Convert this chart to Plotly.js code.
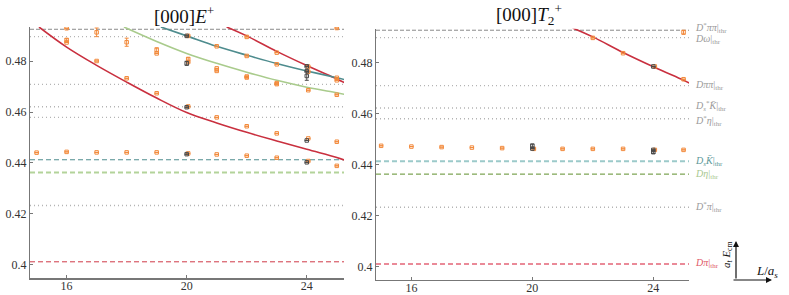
<!DOCTYPE html>
<html>
<head>
<meta charset="utf-8">
<script src="https://cdn.plot.ly/plotly-3.0.1.min.js"></script>
<style>
  body { margin: 0; background: #fff; }
  #plot { width: 789px; height: 295px; }
</style>
</head>
<body>
<div id="plot"></div>
<script>
// threshold energies (a_t E_cm), shared by both panels
const thrNames = [
  '<i>D</i><sup>*</sup><i>ππ</i>|<sub>thr</sub>',
  '<i>Dω</i>|<sub>thr</sub>',
  '<i>Dππ</i>|<sub>thr</sub>',
  '<i>D</i><sub><i>s</i></sub><sup>*</sup><i>K̄</i>|<sub>thr</sub>',
  '<i>D</i><sup>*</sup><i>η</i>|<sub>thr</sub>',
  '<i>D<sub>s</sub>K̄</i>|<sub>thr</sub>',
  '<i>Dη</i>|<sub>thr</sub>',
  '<i>D</i><sup>*</sup><i>π</i>|<sub>thr</sub>',
  '<i>Dπ</i>|<sub>thr</sub>'
];
const thrValues = [0.4926, 0.4897, 0.4709, 0.4621, 0.4579, 0.4412, 0.4362, 0.4232, 0.4010];

// non-interacting curves
const redLowL = [15.08, 16, 17, 18, 19, 20, 21, 22, 23, 24, 25, 25.25];
const redLowE = [0.4935, 0.4856, 0.4784, 0.4718, 0.4655, 0.4598, 0.4557, 0.4520, 0.4486, 0.4453, 0.4421, 0.4411];
const redHighL = [21.33, 22, 23, 24, 25, 25.25];
const redHighE = [0.4935, 0.4900, 0.4839, 0.4783, 0.4730, 0.4716];
const tealL = [19.14, 20, 21, 22, 23, 24, 25, 25.25];
const tealE = [0.4935, 0.4900, 0.4859, 0.4824, 0.4791, 0.4762, 0.4735, 0.4728];
const greenL = [17.91, 19, 20, 21, 22, 23, 24, 25, 25.25];
const greenE = [0.4935, 0.4878, 0.4831, 0.4792, 0.4757, 0.4725, 0.4698, 0.4676, 0.4670];

// [000] E+ levels
const eOrangeL = [15, 16, 16, 16, 16, 17, 17, 17, 18, 18, 18, 19, 19, 19, 19,
  20.05, 20.05, 20.05, 20.05, 20.05, 21, 21, 21, 21, 21, 22, 22, 22, 22, 22, 22,
  23, 23, 23, 23, 23, 23, 24.05, 24.05, 24.05, 24.05, 24.05, 25, 25, 25, 25, 25, 25];
const eOrangeE = [0.4440, 0.4930, 0.4884, 0.4874, 0.4443, 0.4914, 0.4801, 0.4441, 0.4875, 0.4733, 0.4441, 0.4845, 0.4831, 0.4674, 0.4441,
  0.4900, 0.4809, 0.4797, 0.4622, 0.4437, 0.4859, 0.4772, 0.4762, 0.4579, 0.4433, 0.4896, 0.4821, 0.4740, 0.4736, 0.4544, 0.4428,
  0.4834, 0.4788, 0.4714, 0.4710, 0.4516, 0.4420, 0.4779, 0.4759, 0.4686, 0.4496, 0.4407, 0.4931, 0.4735, 0.4725, 0.4668, 0.4483, 0.4388];
const eOrangeErr = [0, 0, 0.0005, 0, 0, 0.0017, 0, 0, 0.0016, 0, 0, 0.0008, 0, 0, 0,
  0, 0.0005, 0, 0, 0, 0, 0, 0, 0, 0, 0, 0, 0, 0, 0, 0,
  0, 0, 0, 0, 0, 0, 0, 0, 0, 0, 0, 0, 0, 0, 0, 0, 0];
const eBlackL = [20, 20, 20, 20, 24, 24, 24, 24, 24];
const eBlackE = [0.4900, 0.4792, 0.4619, 0.4434, 0.4780, 0.4761, 0.4742, 0.4488, 0.4402];
const eBlackErr = [0, 0.0008, 0, 0, 0, 0, 0.0017, 0, 0];

// [000] T2+ levels
const tOrangeL = [15, 16, 17, 18, 19, 20.05, 21, 22, 23, 24.05, 25, 22, 23, 24.05, 25, 25];
const tOrangeE = [0.4473, 0.4470, 0.4468, 0.4466, 0.4464, 0.4461, 0.4461, 0.4461, 0.4461, 0.4457, 0.4457,
  0.4896, 0.4836, 0.4784, 0.4734, 0.4918];
const tOrangeErr = [0, 0, 0, 0, 0, 0, 0, 0, 0, 0, 0, 0, 0, 0, 0, 0.0008];
const tBlackL = [20, 20, 24, 24, 24];
const tBlackE = [0.4473, 0.4462, 0.4784, 0.4457, 0.4448];
const tBlackErr = [0.0007, 0, 0, 0, 0.0005];

const orange = '#f28a3c';
const dark = '#4a4a4a';
const red = '#c9303f';
const serif = '"Liberation Serif", "DejaVu Serif", serif';

function pts(x, y, err, color, xa, ya) {
  return {
    x: x, y: y, xaxis: xa, yaxis: ya, type: 'scatter', mode: 'markers',
    marker: { symbol: 'square-open', size: 3.5, color: color, line: { width: 1, color: color } },
    error_y: { type: 'data', array: err, visible: true, color: color, thickness: 1, width: 2 },
    hoverinfo: 'x+y', showlegend: false
  };
}
function curve(x, y, color, xa, ya) {
  return {
    x: x, y: y, xaxis: xa, yaxis: ya, type: 'scatter', mode: 'lines',
    line: { color: color, width: 1.6, shape: 'spline', smoothing: 1 },
    hoverinfo: 'skip', showlegend: false
  };
}

const data = [
  curve(redLowL, redLowE, red, 'x', 'y'),
  curve(redHighL, redHighE, red, 'x', 'y'),
  curve(tealL, tealE, '#4e8c8e', 'x', 'y'),
  curve(greenL, greenE, '#a9cb8c', 'x', 'y'),
  pts(eOrangeL, eOrangeE, eOrangeErr, orange, 'x', 'y'),
  pts(eBlackL, eBlackE, eBlackErr, dark, 'x', 'y'),
  curve(redHighL, redHighE, red, 'x2', 'y2'),
  pts(tOrangeL, tOrangeE, tOrangeErr, orange, 'x2', 'y2'),
  pts(tBlackL, tBlackE, tBlackErr, dark, 'x2', 'y2')
];

// line styles for thresholds: [left panel, right panel]
const gDash = { color: '#8a8a8a', width: 1, dash: '4px,2px' };
const gDot = { color: '#b4b4b4', width: 1.4, dash: '1px,3px' };
const thrStyles = [
  [gDash, gDash],
  [gDot, gDot],
  [gDot, gDot],
  [gDot, gDot],
  [gDot, gDot],
  [{ color: '#4e8c8e', width: 1, dash: '5px,3px' }, { color: '#9ccaca', width: 2, dash: '5px,3px' }],
  [{ color: '#b3d39a', width: 2, dash: '5px,3px' }, { color: '#5d8f2b', width: 1, dash: '5px,3px' }],
  [gDot, gDot],
  [{ color: '#cf3a48', width: 1, dash: '5px,3px' }, { color: '#ea8a98', width: 2, dash: '5px,3px' }]
];
const labelColors = ['#9a9a9a', '#9a9a9a', '#9a9a9a', '#9a9a9a', '#9a9a9a', '#5c9898', '#a8c890', '#9a9a9a', '#e05a68'];
const labelShift = [2, -2, 0, 2, -2, 0, 0, 0, 0];

const shapes = [];
const annotations = [];
thrValues.forEach((v, i) => {
  shapes.push({ type: 'line', layer: 'below', xref: 'x domain', yref: 'y', x0: 0, x1: 1, y0: v, y1: v, line: thrStyles[i][0] });
  shapes.push({ type: 'line', layer: 'below', xref: 'x2 domain', yref: 'y2', x0: 0, x1: 1, y0: v, y1: v, line: thrStyles[i][1] });
  annotations.push({
    xref: 'paper', yref: 'y2', x: 693 / 789, y: v, xanchor: 'left', yanchor: 'middle', yshift: labelShift[i],
    text: thrNames[i], showarrow: false, font: { family: serif, size: 10, color: labelColors[i] }
  });
});

// panel titles
annotations.push({ xref: 'paper', yref: 'paper', x: 184 / 789, y: 1 - 15 / 295, xanchor: 'center', yanchor: 'middle',
  text: '[000]<i>E</i><sup>+</sup>', showarrow: false, font: { family: serif, size: 19, color: '#111' } });
annotations.push({ xref: 'paper', yref: 'paper', x: 529 / 789, y: 1 - 15 / 295, xanchor: 'center', yanchor: 'middle',
  text: '[000]<i>T</i><sub>2</sub><sup>+</sup>', showarrow: false, font: { family: serif, size: 19, color: '#111' } });

// little axis key in the corner
annotations.push({ xref: 'paper', yref: 'paper', x: 736 / 789, y: 1 - 241 / 295, ax: 0, ay: 39,
  text: '', showarrow: true, arrowhead: 2, arrowsize: 1, arrowwidth: 1.2, arrowcolor: '#111' });
annotations.push({ xref: 'paper', yref: 'paper', x: 772 / 789, y: 1 - 280 / 295, ax: -40, ay: 0,
  text: '', showarrow: true, arrowhead: 2, arrowsize: 1, arrowwidth: 1.2, arrowcolor: '#111' });
annotations.push({ xref: 'paper', yref: 'paper', x: 727 / 789, y: 1 - 255 / 295, xanchor: 'center', yanchor: 'middle',
  text: '<i>a<sub>t</sub> E</i><sub>cm</sub>', textangle: -90, showarrow: false, font: { family: serif, size: 11, color: '#111' } });
annotations.push({ xref: 'paper', yref: 'paper', x: 767 / 789, y: 1 - 271 / 295, xanchor: 'center', yanchor: 'middle',
  text: '<i>L</i>/<i>a<sub>s</sub></i>', showarrow: false, font: { family: serif, size: 13, color: '#111' } });

const xTicks = [16, 20, 24];
const yTicks = [0.4, 0.42, 0.44, 0.46, 0.48];
const yTickText = ['0.4', '0.42', '0.44', '0.46', '0.48'];

const axisBase = {
  showline: true, linecolor: '#777', linewidth: 1.2, ticks: 'inside', ticklen: 3, tickcolor: '#777',
  showgrid: false, zeroline: false, tickfont: { family: serif, size: 12, color: '#333' }
};

const layout = {
  width: 789, height: 295,
  margin: { l: 0, r: 0, t: 0, b: 0 },
  paper_bgcolor: '#fff', plot_bgcolor: '#fff',
  showlegend: false,
  xaxis: Object.assign({}, axisBase, { domain: [30 / 789, 344 / 789], range: [14.78, 25.24], tickvals: xTicks, anchor: 'y', ticklabelstandoff: -4 }),
  yaxis: Object.assign({}, axisBase, { domain: [16.7 / 295, 268 / 295], range: [0.3945, 0.4935], tickvals: yTicks, ticktext: yTickText, anchor: 'x' }),
  xaxis2: Object.assign({}, axisBase, { domain: [376 / 789, 689 / 789], range: [14.83, 25.18], tickvals: xTicks, anchor: 'y2', ticklabelstandoff: -4 }),
  yaxis2: Object.assign({}, axisBase, { domain: [15 / 295, 266.3 / 295], range: [0.3947, 0.4932], tickvals: yTicks, ticktext: yTickText, anchor: 'x2' }),
  shapes: shapes,
  annotations: annotations
};

Plotly.newPlot('plot', data, layout, { displayModeBar: false, staticPlot: true });
</script>
</body>
</html>
